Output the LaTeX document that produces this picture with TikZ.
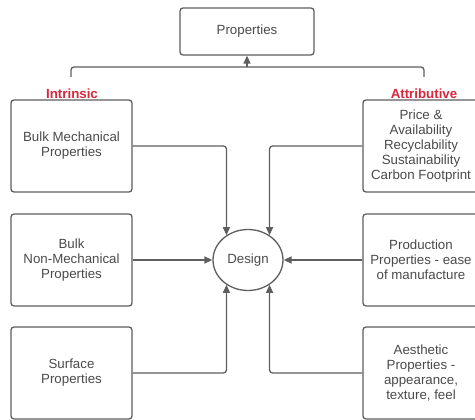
\documentclass[tikz,border=0pt]{standalone}
\usepackage{fontspec}
\setmainfont{Liberation Sans}
\usetikzlibrary{arrows.meta,shapes.geometric}
\definecolor{linegray}{HTML}{5E5E5E}
\definecolor{textgray}{HTML}{4A4A4A}
\definecolor{labelred}{HTML}{D8283C}
\tikzset{
  box/.style={draw=linegray, line width=1.3pt, rounded corners=3pt, align=center,
    text=textgray, font=\fontsize{13.3}{15}\selectfont, inner sep=0pt},
  leftbox/.style={box, minimum width=121pt, minimum height=92pt},
  rightbox/.style={box, minimum width=116pt, minimum height=92pt},
  conn/.style={draw=linegray, line width=1.3pt, rounded corners=3pt,
    -{Triangle[length=8pt,width=7pt]}},
  catlabel/.style={text=labelred, font=\bfseries\fontsize{13.3}{15}\selectfont, inner sep=0pt}
}
\begin{document}
\begin{tikzpicture}[x=1pt,y=-1pt]
\useasboundingbox (0,0) rectangle (475,420);
\node[box, minimum width=134pt, minimum height=47pt] (props) at (247,31.5) {Properties};
\node[catlabel] (intr) at (72,94) {Intrinsic};
\node[catlabel] (attr) at (424,94) {Attributive};
\node[leftbox] (bm) at (71.5,146) {Bulk Mechanical\\Properties};
\node[leftbox] (bn) at (71.5,260) {Bulk\\Non-Mechanical\\Properties};
\node[leftbox] (sp) at (71.5,373) {Surface\\Properties};
\node[rightbox] (pa) at (421,146) {Price \&\\Availability\\Recyclability\\Sustainability\\Carbon Footprint};
\node[rightbox] (pr) at (421,260) {Production\\Properties - ease\\of manufacture};
\node[rightbox] (ae) at (421,373) {Aesthetic\\Properties -\\appearance,\\texture, feel};
\node[draw=linegray, line width=1.3pt, ellipse, minimum width=70pt, minimum height=61pt,
  inner sep=0pt, text=textgray, font=\fontsize{13.3}{15}\selectfont] (design) at (248,260) {Design};
\coordinate (bl) at (71,77);
\coordinate (br) at (424,77);
\coordinate (bmid) at (247,67);
\draw[draw=linegray, line width=1.3pt, rounded corners=3pt] (bl) |- (bmid) -| (br);
\draw[conn] (bmid) -- (props.south);
\draw[conn] (bm.east) -| (design.131);
\draw[conn] (pa.west) -| (design.49);
\draw[conn] (bn.east) -- (design.west);
\draw[conn] (pr.west) -- (design.east);
\draw[conn] (sp.east) -| (design.229);
\draw[conn] (ae.west) -| (design.311);
\end{tikzpicture}
\end{document}
